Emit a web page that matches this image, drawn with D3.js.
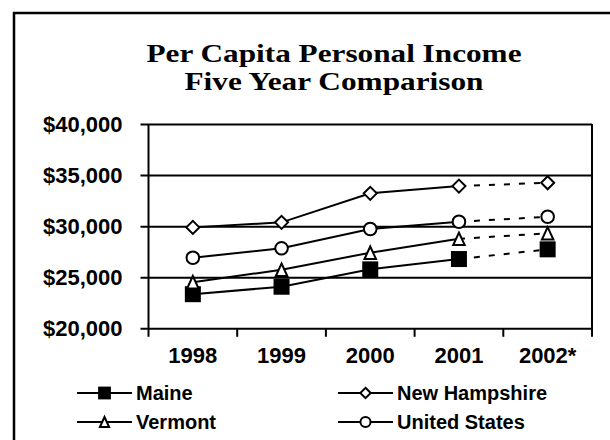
<!DOCTYPE html>
<html>
<head>
<meta charset="utf-8">
<script src="https://cdn.jsdelivr.net/npm/d3@7"></script>
<style>
  body { margin: 0; background: #fff; }
  text { font-family: "Liberation Sans", Arial, sans-serif; font-weight: bold; fill: #000; }
  .title { font-family: "Liberation Serif", "Times New Roman", serif; font-size: 25px; }
</style>
</head>
<body>
<div id="chart"></div>
<script>
const years = ["1998", "1999", "2000", "2001", "2002*"];
const maine = [23340, 24070, 25770, 26780, 27730];
const newHampshire = [29880, 30370, 33210, 33920, 34250];
const vermont = [24510, 25730, 27400, 28760, 29300];
const unitedStates = [26910, 27830, 29720, 30430, 30920];
const yTicks = [20000, 25000, 30000, 35000, 40000];
const seriesNames = ["Maine", "New Hampshire", "Vermont", "United States"];
const titleLines = ["Per Capita Personal Income", "Five Year Comparison"];

const width = 610, height = 440;
const plot = {left: 148.5, right: 592, top: 124, bottom: 328.3};

const series = [
  {name: seriesNames[0], values: maine, marker: "square"},
  {name: seriesNames[1], values: newHampshire, marker: "diamond"},
  {name: seriesNames[2], values: vermont, marker: "triangle"},
  {name: seriesNames[3], values: unitedStates, marker: "circle"}
];

const svg = d3.select("#chart")
  .append("svg")
    .attr("width", width)
    .attr("height", height);

// outer frame (right and bottom edges run off the picture)
svg.append("rect")
  .attr("x", 14).attr("y", 13)
  .attr("width", 640).attr("height", 460)
  .attr("fill", "#fff")
  .attr("stroke", "#000")
  .attr("stroke-width", 2.5);

// title
svg.selectAll(".title")
  .data(titleLines)
  .join("text")
    .attr("class", "title")
    .attr("x", 334)
    .attr("y", (d, i) => 61.5 + i * 28)
    .attr("text-anchor", "middle")
    .attr("textLength", (d, i) => i === 0 ? 375 : 299)
    .attr("lengthAdjust", "spacingAndGlyphs")
    .text(d => d);

const x = d3.scaleBand()
  .domain(years)
  .range([plot.left, plot.right]);

const y = d3.scaleLinear()
  .domain([20000, 40000])
  .range([plot.bottom, plot.top]);

// y axis with gridlines
const yAxis = svg.append("g")
  .attr("transform", `translate(${plot.left},0)`)
  .call(d3.axisLeft(y)
    .tickValues(yTicks)
    .tickSize(8)
    .tickPadding(18)
    .tickFormat(d => "$" + d3.format(",")(d)));
yAxis.select(".domain").remove();
yAxis.selectAll(".tick line")
  .attr("x1", -8)
  .attr("x2", plot.right - plot.left)
  .attr("stroke", "#000")
  .attr("stroke-width", 2);
yAxis.selectAll(".tick text")
  .attr("font-size", 22);

// x axis: ticks at category boundaries
const xAxis = svg.append("g")
  .attr("transform", `translate(0,${plot.bottom})`);
xAxis.selectAll("line.bound")
  .data(years.concat(["end"]))
  .join("line")
    .attr("class", "bound")
    .attr("x1", (d, i) => i < years.length ? x(d) : plot.right)
    .attr("x2", (d, i) => i < years.length ? x(d) : plot.right)
    .attr("y1", (d, i) => (i === 0 || i === years.length) ? plot.top - plot.bottom : 0)
    .attr("y2", 8.5)
    .attr("stroke", "#000")
    .attr("stroke-width", 2);
xAxis.selectAll("text")
  .data(years)
  .join("text")
    .attr("x", d => x(d) + x.bandwidth() / 2)
    .attr("y", 27)
    .attr("dy", "0.35em")
    .attr("text-anchor", "middle")
    .attr("font-size", 22)
    .text(d => d);

const cx = i => x(years[i]) + x.bandwidth() / 2;

const line = d3.line()
  .x(d => cx(d.i))
  .y(d => y(d.v));

function drawMarker(g, type, px, py, s) {
  const k = s || 1;
  if (type === "square") {
    const a = 16 * k;
    g.append("rect")
      .attr("x", px - a / 2).attr("y", py - a / 2)
      .attr("width", a).attr("height", a)
      .attr("fill", "#000");
  } else if (type === "diamond") {
    const r = 6.5 * k;
    g.append("path")
      .attr("d", `M${px},${py - r}L${px + r},${py}L${px},${py + r}L${px - r},${py}Z`)
      .attr("fill", "#fff").attr("stroke", "#000").attr("stroke-width", 2);
  } else if (type === "triangle") {
    const w = 11.5 * k, h = 12.5 * k;
    g.append("path")
      .attr("d", `M${px},${py - h / 2}L${px + w / 2},${py + h / 2}L${px - w / 2},${py + h / 2}Z`)
      .attr("fill", "#fff").attr("stroke", "#000").attr("stroke-width", 2)
      .attr("stroke-linejoin", "miter");
  } else {
    g.append("circle")
      .attr("cx", px).attr("cy", py).attr("r", 6.3 * k)
      .attr("fill", "#fff").attr("stroke", "#000").attr("stroke-width", 2);
  }
}

const lines = svg.append("g");
const marks = svg.append("g");

series.forEach(s => {
  const pts = s.values.map((v, i) => ({i: i, v: v}));
  lines.append("path")
    .attr("d", line(pts.slice(0, 4)))
    .attr("fill", "none")
    .attr("stroke", "#000")
    .attr("stroke-width", 2);
  lines.append("path")
    .attr("d", line(pts.slice(3)))
    .attr("fill", "none")
    .attr("stroke", "#000")
    .attr("stroke-width", 2)
    .attr("stroke-dasharray", "6,9");
  pts.forEach(p => drawMarker(marks, s.marker, cx(p.i), y(p.v)));
});

// legend
const legend = svg.append("g");
series.forEach((s, i) => {
  const lx = i % 2 === 0 ? 77 : 338;
  const ly = i < 2 ? 393 : 422;
  legend.append("line")
    .attr("x1", lx).attr("x2", lx + 55)
    .attr("y1", ly).attr("y2", ly)
    .attr("stroke", "#000").attr("stroke-width", 2);
  drawMarker(legend, s.marker, lx + 27.5, ly, 0.8);
  legend.append("text")
    .attr("x", lx + 59)
    .attr("y", ly)
    .attr("dy", "0.35em")
    .attr("font-size", 20)
    .text(s.name);
});
</script>
</body>
</html>
